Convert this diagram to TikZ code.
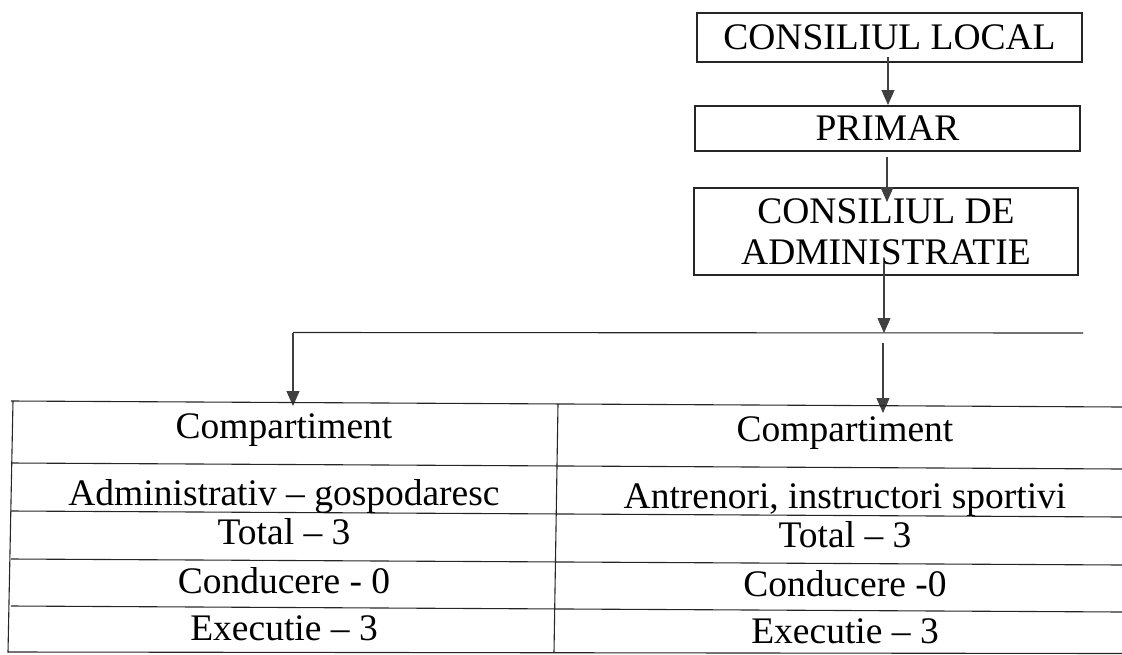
\documentclass[tikz,border=0pt]{standalone}
\usepackage{fontspec}
\setmainfont{Liberation Serif}
\usetikzlibrary{arrows.meta,calc}
\begin{document}
\begin{tikzpicture}[x=1pt,y=-1pt,
  box/.style={draw=black!85,line width=1.1pt,inner sep=0pt,font=\fontsize{37.5}{41}\selectfont,align=center},
  cell/.style={anchor=base,inner sep=0pt,font=\fontsize{37.5}{41}\selectfont},
  conn/.style={draw=black!75,line width=1.1pt,-{Triangle[length=15pt,width=13pt]}},
  rule/.style={draw=black!85,line width=1.1pt}]
\useasboundingbox (0,0) rectangle (1122,654);
% top boxes
\node[box,minimum width=385pt,minimum height=49pt] (cl) at (889.5,37.5) {CONSILIUL LOCAL};
\node[box,minimum width=385pt,minimum height=45pt] (pr) at (887.5,128.5) {PRIMAR};
\node[box,minimum width=384pt,minimum height=87pt] (cda) at (886,231.5) {CONSILIUL DE\\ADMINISTRATIE};
% arrow end points
\coordinate (a1s) at (888,57);  \coordinate (a1e) at (888,105);
\coordinate (a2s) at (887,157); \coordinate (a2e) at (887,202);
\coordinate (a3s) at (884,263); \coordinate (a3e) at (884,333);
\coordinate (bl) at (293,332.5); \coordinate (br) at (1083,333);
\coordinate (lae) at (293,406);
\coordinate (ras) at (883,343); \coordinate (rae) at (883,413);
\draw[conn] (a1s) -- (a1e);
\draw[conn] (a2s) -- (a2e);
\draw[rule] (bl) -- (br);
\draw[conn] (a3s) -- (a3e);
\draw[conn] (bl) -- (lae);
\draw[conn] (ras) -- (rae);
% table
\foreach \yy in {401,463,511,559,606} \draw[rule] (11,\yy) -- (1122,{\yy+6});
\draw[rule] (8,652) -- (1122,653.5);
\draw[rule] (13,401) -- (8,652.5);
\draw[rule] (558,404) -- (554,652.5);
% left column
\node[cell] (l1) at (284,438) {Compartiment};
\node[cell] (l2) at (284,505) {Administrativ – gospodaresc};
\node[cell] (l3) at (284,544) {Total – 3};
\node[cell] (l4) at (284,593) {Conducere - 0};
\node[cell] (l5) at (284,640) {Executie – 3};
% right column
\node[cell] (r1) at (845,441) {Compartiment};
\node[cell] (r2) at (845,508) {Antrenori, instructori sportivi};
\node[cell] (r3) at (845,547) {Total – 3};
\node[cell] (r4) at (845,596) {Conducere -0};
\node[cell] (r5) at (845,643) {Executie – 3};
\end{tikzpicture}
\end{document}
